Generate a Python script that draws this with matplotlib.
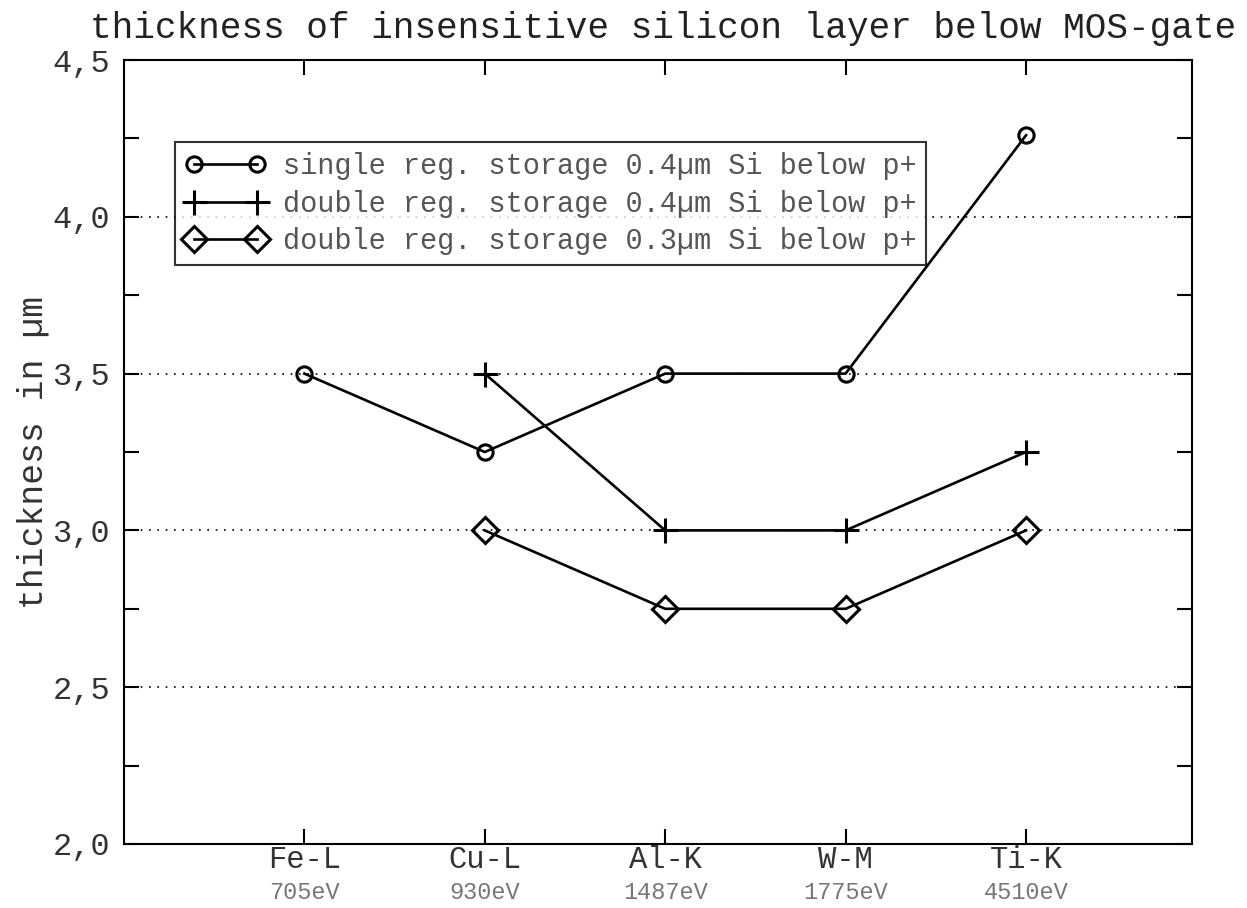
import matplotlib.pyplot as plt
import numpy as np

plt.rcParams['font.family'] = ['Liberation Mono', 'DejaVu Sans Mono']

lines = ["Fe-L", "Cu-L", "Al-K", "W-M", "Ti-K"]
energies = ["705eV", "930eV", "1487eV", "1775eV", "4510eV"]

single_04 = [3.5, 3.25, 3.5, 3.5, 4.26]
double_04 = [np.nan, 3.5, 3.0, 3.0, 3.25]
double_03 = [np.nan, 3.0, 2.75, 2.75, 3.0]

labels = [u"single reg. storage 0.4\u00b5m Si below p+",
          u"double reg. storage 0.4\u00b5m Si below p+",
          u"double reg. storage 0.3\u00b5m Si below p+"]

x = np.arange(1, len(lines) + 1)

fig = plt.figure(figsize=(12.47, 9.08), dpi=100)
ax = fig.add_axes([0.0994, 0.0705, 0.8565, 0.8634])

ax.plot(x, single_04, "k-", lw=1.9, marker="o", ms=11, mfc="none", mew=2.2,
        label=labels[0])
ax.plot(x, double_04, "k-", lw=1.9, marker="+", ms=18, mew=2.2,
        label=labels[1])
ax.plot(x, double_03, "k-", lw=1.9, marker="D", ms=13, mfc="none", mew=2.2,
        label=labels[2])

ax.set_xlim(0, 5.92)
ax.set_ylim(2.0, 4.5)

yt = np.arange(2.0, 4.51, 0.5)
ax.set_yticks(yt)
ax.set_yticks(np.arange(2.25, 4.5, 0.5), minor=True)
ax.set_yticklabels([("%.1f" % v).replace(".", ",") for v in yt])
ax.set_xticks(x)
ax.set_xticklabels(lines)

ax.tick_params(axis="both", which="both", direction="in", top=True, right=True,
               width=1.5, color="black")
ax.tick_params(axis="both", which="major", length=11)
ax.tick_params(axis="y", which="minor", length=11)
ax.tick_params(axis="y", labelsize=23, labelcolor="#333333", pad=10)
ax.tick_params(axis="x", labelsize=22, labelcolor="#333333", pad=1)

for g in [2.5, 3.0, 3.5, 4.0]:
    ax.axhline(g, color="black", lw=1.2, ls=(0, (1, 4)), zorder=0)

for xi, e in zip(x, energies):
    ax.text(xi, -0.047, e, transform=ax.get_xaxis_transform(), ha="center",
            va="top", fontsize=17, color="#777777")

for s in ax.spines.values():
    s.set_linewidth(1.5)

ax.set_ylabel(u"thickness in \u00b5m", fontsize=25, color="#333333", labelpad=2)
ax.set_title("thickness of insensitive silicon layer below MOS-gate",
             fontsize=26, color="#222222", pad=16, x=0.505)

leg = ax.legend(loc="upper left", bbox_to_anchor=(0.048, 0.895), fontsize=20.6,
                frameon=True, fancybox=False, edgecolor="black",
                handlelength=2.8, handletextpad=0.6, borderpad=0.35,
                labelspacing=0.33, borderaxespad=0, numpoints=2)
leg.get_frame().set_linewidth(1.5)
for t in leg.get_texts():
    t.set_color("#555555")

fig.savefig("out.png", dpi=100)
